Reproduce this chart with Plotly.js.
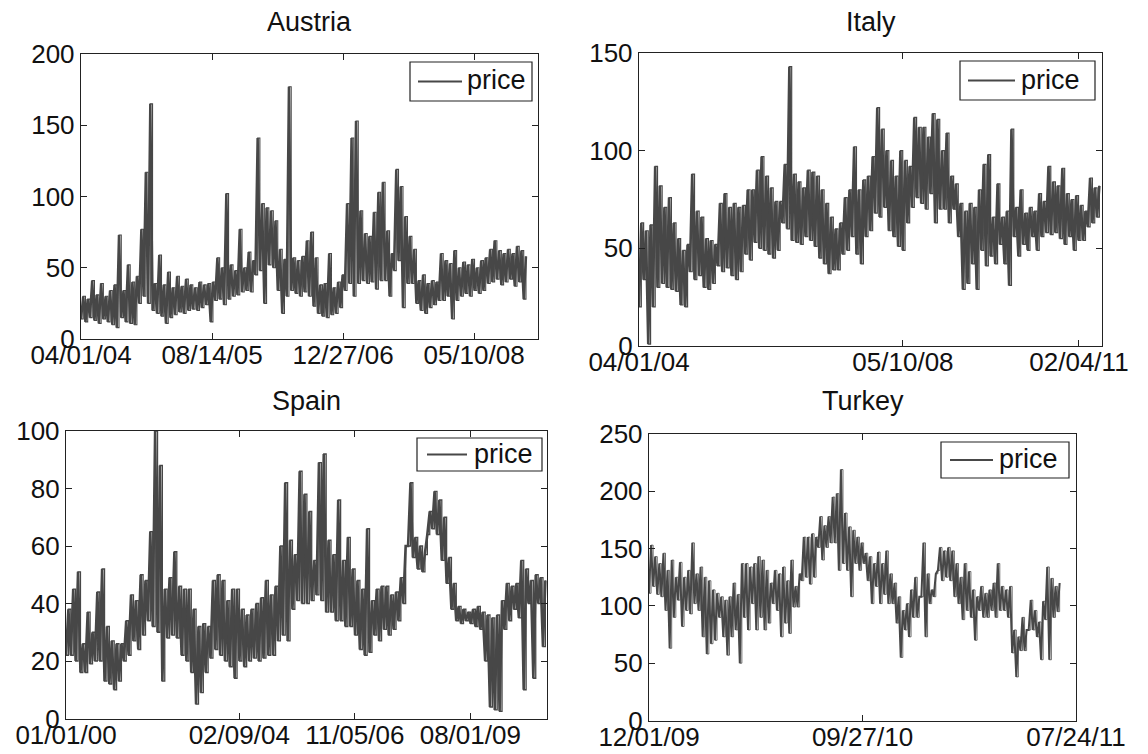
<!DOCTYPE html>
<html>
<head>
<meta charset="utf-8">
<script src="https://cdn.plot.ly/plotly-3.0.1.min.js"></script>
<style>html,body{margin:0;padding:0;background:#fff;}#chart{width:1148px;height:754px;}</style>
</head>
<body>
<div id="chart"></div>
<script>
// ---- Data (alternating low / high readings of the dense daily band) ----
const austriaTitle = 'Austria';
const austriaEndDay = 1698;
const austriaPrice = [
 14,30, 12,28, 15,41, 13,31, 11,39, 14,30, 12,34, 10,38, 8,73, 15,34,
 12,52, 11,40, 10,44, 25,77, 30,117, 25,165, 20,39, 18,59, 16,38, 11,47,
 15,36, 17,44, 19,37, 18,42, 20,38, 21,36, 20,40, 22,38, 24,39, 12,40,
 27,57, 28,50, 24,102, 28,52, 30,48, 31,77, 33,50, 34,61, 33,55, 45,141,
 48,95, 25,92, 52,90, 50,83, 34,63, 18,56, 30,177, 34,57, 32,55, 30,58,
 33,69, 30,75, 23,57, 18,38, 16,39, 15,60, 17,36, 18,40, 22,45, 34,95,
 39,141, 30,153, 39,90, 41,74, 39,72, 40,89, 35,103, 41,110, 41,76, 30,60,
 48,119, 55,107, 22,86, 39,72, 39,63, 25,41, 20,45, 18,39, 22,41, 24,40,
 27,60, 27,55, 30,53, 14,62, 27,50, 30,54, 32,52, 30,56, 34,50, 32,55,
 34,57, 39,63, 40,69, 42,62, 38,60, 40,63, 42,60, 37,65, 40,62, 28,58
];
const austriaTickDays = [0, 500, 1000, 1500];
const austriaTickLabels = ['04/01/04', '08/14/05', '12/27/06', '05/10/08'];
const austriaYTicks = [0, 50, 100, 150, 200];

const italyTitle = 'Italy';
const italyEndDay = 2616;
const italyPrice = [
 20,63, 34,59, 1,62, 20,92, 30,82, 32,71, 30,76, 29,63, 28,55, 21,49,
 20,52, 38,88, 34,69, 36,66, 30,55, 29,54, 32,52, 41,73, 38,78, 40,71,
 36,73, 34,71, 38,72, 47,80, 44,80, 53,90, 50,97, 49,87, 47,81, 45,74,
 49,74, 63,93, 60,143, 54,88, 53,84, 52,81, 56,90, 54,89, 51,87, 45,80,
 42,73, 37,66, 39,60, 39,63, 47,76, 49,80, 56,102, 47,80, 42,85, 56,87,
 59,97, 68,122, 66,111, 71,100, 59,95, 56,87, 51,100, 49,95, 63,92, 71,117,
 76,112, 73,112, 70,107, 78,119, 63,116, 70,100, 70,109, 63,87, 70,83, 56,73,
 29,69, 32,73, 42,71, 29,80, 49,93, 41,98, 46,66, 42,83, 52,66, 42,69,
 31,111, 56,71, 46,80, 52,68, 49,71, 56,69, 49,78, 56,74, 58,92, 57,84,
 58,82, 55,91, 52,78, 56,75, 49,77, 54,72, 54,69, 61,86, 63,81, 66,82
];
const italyTickDays = [0, 1500, 2500];
const italyTickLabels = ['04/01/04', '05/10/08', '02/04/11'];
const italyYTicks = [0, 50, 100, 150];

const spainTitle = 'Spain';
const spainEndDay = 4150;
const spainPrice = [
 22,38, 22,45, 20,51, 16,26, 16,37, 19,30, 20,44, 20,52, 13,32, 12,27,
 10,26, 13,26, 20,34, 22,43, 27,41, 24,50, 29,48, 34,65, 32,100, 30,88,
 13,45, 28,49, 29,58, 28,46, 22,45, 20,45, 16,38, 5,32, 9,33, 16,32,
 21,48, 24,50, 22,48, 20,41, 18,45, 14,45, 20,38, 18,36, 20,38, 21,40,
 20,42, 21,48, 22,43, 22,46, 27,60, 29,82, 27,62, 38,57, 41,86, 40,78,
 40,72, 41,55, 43,89, 41,92, 37,62, 37,57, 34,76, 34,55, 32,63, 32,52,
 29,48, 24,45, 22,66, 23,41, 29,45, 27,46, 31,46, 29,43, 31,44, 34,49,
 40,60, 60,82, 56,63, 52,60, 51,57, 64,72, 66,79, 64,76, 55,70, 47,56,
 38,47, 34,39, 33,38, 34,37, 33,38, 32,39, 31,37, 20,36, 4,35, 3,36,
 2.5,41, 31,47, 34,46, 38,47, 35,55, 10,52, 40,48, 14,50, 40,49, 25,48
];
const spainTickDays = [0, 1500, 2500, 3500];
const spainTickLabels = ['01/01/00', '02/09/04', '11/05/06', '08/01/09'];
const spainYTicks = [0, 20, 40, 60, 80, 100];

const turkeyTitle = 'Turkey';
const turkeyEndDay = 577;
const turkeyPrice = [
 111,153, 117,143, 110,137, 108,146, 96,131, 63,140, 90,125, 105,138, 82,125, 96,131,
 93,155, 102,128, 96,134, 73,125, 58,122, 67,114, 70,111, 90,108, 73,105, 57,108,
 73,120, 79,110, 50,137, 90,137, 79,134, 102,137, 79,143, 90,140, 79,131, 85,120,
 102,131, 96,128, 73,134, 85,122, 76,140, 99,117, 99,128, 122,160, 125,160, 119,163,
 125,160, 151,178, 140,170, 151,178, 155,195, 155,198, 131,219, 137,181, 131,169, 108,166,
 137,160, 131,155, 137,146, 122,143, 102,137, 117,147, 102,137, 110,148, 102,128, 102,120,
 85,108, 55,96, 79,102, 73,114, 90,125, 90,108, 108,155, 73,128, 102,114, 108,128,
 131,151, 122,148, 125,151, 122,148, 108,137, 102,125, 88,137, 96,130, 90,114, 70,108,
 96,117, 90,111, 90,114, 96,120, 90,137, 96,117, 96,114, 90,117, 59,79, 38,73,
 61,90, 61,79, 79,105, 79,96, 73,86, 53,104, 88,134, 53,124, 90,117, 95,120
];
const turkeyTickDays = [0, 300, 600];
const turkeyTickLabels = ['12/01/09', '09/27/10', '07/24/11'];
const turkeyYTicks = [0, 50, 100, 150, 200, 250];

const seriesName = 'price';

// ---- Layout helpers (pixel geometry of the reference) ----
const W = 1148, H = 754;
const FONT = 'Arial, "Liberation Sans", Helvetica, sans-serif';
const LINE_COLOR = '#474747';
const AXIS_COLOR = '#222';

function days(values, endDay) {
  return values.map((_, i) => i * endDay / (values.length - 1));
}
function fx(px) { return px / W; }
function fy(py) { return 1 - py / H; }

function axisBase() {
  return {
    showline: true, linecolor: AXIS_COLOR, linewidth: 1.2, mirror: 'ticks',
    ticks: 'inside', ticklen: 6, tickcolor: AXIS_COLOR, tickwidth: 1,
    showgrid: false, zeroline: false, fixedrange: true,
    tickfont: {family: FONT, size: 26, color: '#111'}
  };
}

// px: plot box left/right, py: bottom/top, leg: box [left, top, right, bottom], sample line [x0, x1], text x
const panels = [
  {title: austriaTitle, y: austriaPrice, end: austriaEndDay, tv: austriaTickDays, tt: austriaTickLabels, yt: austriaYTicks,
   xr: [0, 1744], yr: [0, 200], px: [81, 538], py: [339, 54], titleY: 22, lw: 2.5, fw: 1.1,
   leg: [410, 62, 532, 101], sample: [418, 462], textX: 465},
  {title: italyTitle, y: italyPrice, end: italyEndDay, tv: italyTickDays, tt: italyTickLabels, yt: italyYTicks,
   xr: [0, 2631], yr: [0, 150], px: [639, 1102], py: [346, 53], titleY: 22, lw: 2.6, fw: 1.2,
   leg: [960, 61, 1095, 100], sample: [968, 1015], textX: 1019},
  {title: spainTitle, y: spainPrice, end: spainEndDay, tv: spainTickDays, tt: spainTickLabels, yt: spainYTicks,
   xr: [0, 4164], yr: [0, 100], px: [66, 547], py: [718.5, 431], titleY: 401, lw: 2.6, fw: 1.3,
   leg: [417, 438, 542, 471], sample: [427, 467], textX: 472},
  {title: turkeyTitle, y: turkeyPrice, end: turkeyEndDay, tv: turkeyTickDays, tt: turkeyTickLabels, yt: turkeyYTicks,
   xr: [0, 600], yr: [0, 250], px: [649, 1076], py: [720.5, 434], titleY: 401, lw: 2.0, fw: 0.8,
   leg: [941, 442, 1069, 478], sample: [950, 993], textX: 997}
];

const data = [];
const layout = {
  width: W, height: H,
  margin: {l: 0, r: 0, t: 0, b: 0},
  paper_bgcolor: '#fff', plot_bgcolor: '#fff',
  font: {family: FONT, color: '#111'},
  showlegend: false,
  annotations: [],
  shapes: []
};

panels.forEach((p, i) => {
  const n = i === 0 ? '' : String(i + 1);
  const xs = days(p.y, p.end);
  // thin stepped stroke fills the body of the dense band
  data.push({
    type: 'scatter', mode: 'lines', x: xs, y: p.y, name: seriesName,
    xaxis: 'x' + n, yaxis: 'y' + n,
    line: {color: LINE_COLOR, width: p.fw, shape: 'hv'}, hoverinfo: 'skip'
  });
  // the price line itself
  data.push({
    type: 'scatter', mode: 'lines', x: xs, y: p.y, name: seriesName,
    xaxis: 'x' + n, yaxis: 'y' + n,
    line: {color: LINE_COLOR, width: p.lw}, hoverinfo: 'skip'
  });
  layout['xaxis' + n] = Object.assign(axisBase(), {
    domain: [fx(p.px[0]), fx(p.px[1])], range: p.xr, anchor: 'y' + n,
    tickmode: 'array', tickvals: p.tv, ticktext: p.tt,
    ticklabelstandoff: -7
  });
  layout['yaxis' + n] = Object.assign(axisBase(), {
    domain: [fy(p.py[0]), fy(p.py[1])], range: p.yr, anchor: 'x' + n,
    tickmode: 'array', tickvals: p.yt, ticktext: p.yt.map(String)
  });
  layout.annotations.push({
    text: p.title, xref: 'paper', yref: 'paper',
    x: fx((p.px[0] + p.px[1]) / 2), y: fy(p.titleY),
    xanchor: 'center', yanchor: 'middle', showarrow: false,
    font: {family: FONT, size: 27, color: '#111'}
  });
  const [l, t, r, b] = p.leg;
  const mid = (t + b) / 2;
  layout.shapes.push({
    type: 'rect', xref: 'paper', yref: 'paper',
    x0: fx(l), x1: fx(r), y0: fy(b), y1: fy(t),
    line: {color: AXIS_COLOR, width: 1.2}, fillcolor: '#fff', layer: 'above'
  });
  layout.shapes.push({
    type: 'line', xref: 'paper', yref: 'paper',
    x0: fx(p.sample[0]), x1: fx(p.sample[1]), y0: fy(mid), y1: fy(mid),
    line: {color: LINE_COLOR, width: 1.8}, layer: 'above'
  });
  layout.annotations.push({
    text: seriesName, xref: 'paper', yref: 'paper',
    x: fx(p.textX), y: fy(mid - 1), xanchor: 'left', yanchor: 'middle', showarrow: false,
    font: {family: FONT, size: 27, color: '#111'}
  });
});

Plotly.newPlot('chart', data, layout, {staticPlot: true, displayModeBar: false});
</script>
</body>
</html>
